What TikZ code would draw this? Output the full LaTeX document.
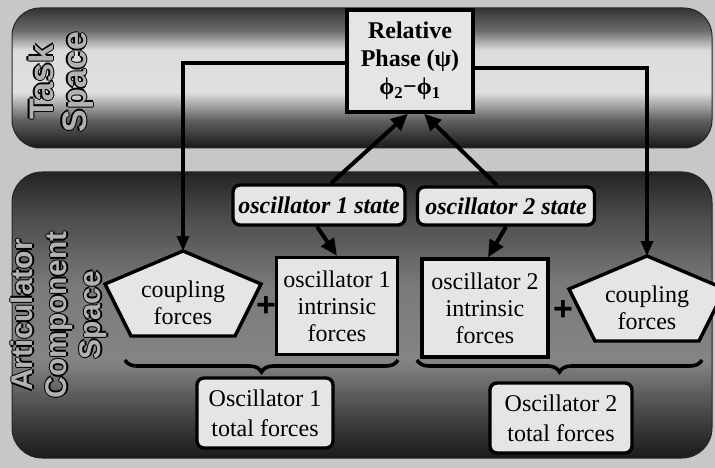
\documentclass[tikz,border=0pt]{standalone}
\usepackage{fontspec}
\setmainfont{Liberation Serif}
\newfontfamily\spacesans{Liberation Sans}
\usetikzlibrary{arrows.meta,positioning,calc,decorations.pathreplacing,shapes.geometric}
% band shadings, light in the middle, dark at the rims
\pgfdeclareverticalshading{taskband}{100bp}{color(0bp)=(black!90); color(25bp)=(black!90);
  color(35bp)=(black!62); color(45bp)=(black!12); color(60bp)=(black!14);
  color(67bp)=(black!58); color(75bp)=(black!80); color(100bp)=(black!80)}
\pgfdeclareverticalshading{articband}{100bp}{color(0bp)=(black!90); color(25bp)=(black!90);
  color(33bp)=(black!72); color(42bp)=(black!48); color(55bp)=(black!52);
  color(67bp)=(black!70); color(75bp)=(black!86); color(100bp)=(black!86)}

\begin{document}
\begin{tikzpicture}[x=1pt,y=-1pt,
  box/.style={draw,line width=3.4pt,fill=black!10,align=center,inner sep=2pt,
    font=\fontsize{24}{27}\selectfont},
  roundbox/.style={box,rounded corners=7pt},
  statebox/.style={roundbox,font=\fontsize{24}{27}\selectfont\bfseries\itshape},
  pentagon/.style={draw,line width=3.4pt,fill=black!10,line join=miter},
  flow/.style={line width=4pt,-{Triangle[length=17pt,width=15pt]}},
  feed/.style={line width=3.2pt,-{Triangle[length=15pt,width=12pt]}},
  spacetext/.style={align=center,rotate=90,inner sep=0pt,
    font=\fontsize{30}{34}\selectfont\spacesans\bfseries},
  plus/.style={font=\fontsize{34}{34}\selectfont\spacesans\bfseries,inner sep=0pt},
  curly/.style={decorate,decoration={brace,amplitude=12pt},line width=3.6pt}]
\useasboundingbox (0,0) rectangle (715,468);
\fill[black!22] (0,0) rectangle (715,468);
% Task space band
\shade[shading=taskband,draw=black!85,line width=1pt,rounded corners=28pt]
  (12,8) rectangle (712,148);
% Articulator component space band
\shade[shading=articband,draw=black!85,line width=1pt,rounded corners=30pt]
  (12,172) rectangle (712,458);
% Embossed band labels
\begin{scope}
  \clip[rounded corners=28pt] (12,8) rectangle (712,148);
  \foreach \dx/\dy [count=\k] in {-1.5/0,1.5/0,0/-1.5,0/1.5}
    \node[spacetext,text=black,font=\fontsize{34}{33}\selectfont\spacesans\bfseries]
      (ts\k) at (61+\dx,82+\dy) {Task\\Space};
  \node[spacetext,text=black!30,font=\fontsize{34}{33}\selectfont\spacesans\bfseries]
    (task) at (61,82) {Task\\Space};
\end{scope}
\foreach \dx/\dy [count=\k] in {-1.5/0,1.5/0,0/-1.5,0/1.5}
  \node[spacetext,text=black] (as\k) at (59+\dx,315+\dy) {Articulator\\Component\\Space};
\node[spacetext,text=black!30] (artic) at (59,315) {Articulator\\Component\\Space};
% Relative phase
\node[box,minimum width=126pt,minimum height=102pt,
  font=\fontsize{24}{28}\selectfont\bfseries] (phase) at (410,61)
  {Relative\\Phase (ψ)\\ϕ\textsubscript{2}−ϕ\textsubscript{1}};
% Coupling pentagons
\coordinate (cf1c) at (183,303);
\coordinate (cf2c) at (647,308);
\foreach \c in {cf1c,cf2c}
  \draw[pentagon] ($(\c)+(0,-52)$) -- ($(\c)+(78,-19)$) -- ($(\c)+(52,33)$)
    -- ($(\c)+(-52,33)$) -- ($(\c)+(-78,-19)$) -- cycle;
\coordinate (cf1top) at ($(cf1c)+(0,-52)$);
\coordinate (cf2top) at ($(cf2c)+(0,-52)$);
\node[align=center,font=\fontsize{24}{27}\selectfont] (cf1) at (cf1c) {coupling\\forces};
\node[align=center,font=\fontsize{24}{27}\selectfont] (cf2) at (cf2c) {coupling\\forces};
% Oscillator states and intrinsic forces
\node[statebox,minimum width=172pt,minimum height=40pt] (st1) at (319,205) {oscillator 1 state};
\node[statebox,minimum width=177pt,minimum height=38pt] (st2) at (506,206) {oscillator 2 state};
\node[box,minimum width=121pt,minimum height=97pt] (in1) at (337,306) {oscillator 1\\intrinsic\\forces};
\node[box,minimum width=126pt,minimum height=98pt] (in2) at (485,308) {oscillator 2\\intrinsic\\forces};
\node[plus] (p1) at (266,307) {+};
\node[plus] (p2) at (563,311) {+};
% Totals
\node[roundbox,minimum width=136pt,minimum height=70pt,
  font=\fontsize{24}{30}\selectfont] (tot1) at (265,413) {Oscillator 1\\total forces};
\node[roundbox,minimum width=142pt,minimum height=70pt,
  font=\fontsize{24}{30}\selectfont] (tot2) at (561,418) {Oscillator 2\\total forces};
% Connectors
\draw[feed] ([yshift=-2pt]phase.west) -| (cf1top);
\draw[feed] ([yshift=-7pt]phase.east) -| (cf2top);
\draw[flow] ([xshift=12pt]st1.north) -- ([xshift=-2pt]phase.south);
\draw[flow] ([xshift=-9pt]st2.north) -- ([xshift=14pt]phase.south);
\draw[flow] ([xshift=-2pt]st1.south) -- (in1.north);
\draw[flow] (st2.south) -- ([xshift=3pt]in2.north);
% Braces
\coordinate (br1a) at (398,360);
\coordinate (br1b) at (125,360);
\coordinate (br2a) at (702,360);
\coordinate (br2b) at (417,360);
\draw[curly] (br1a) -- (br1b);
\draw[curly] (br2a) -- (br2b);
\end{tikzpicture}
\end{document}
